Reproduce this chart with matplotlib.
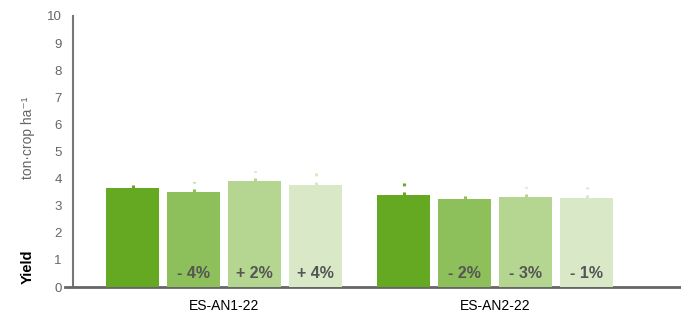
import numpy as np
import matplotlib
matplotlib.use("Agg")
import matplotlib.pyplot as plt

plt.rcParams['font.family'] = ['Liberation Sans', 'DejaVu Sans']

# Data
sites = ['ES-AN1-22', 'ES-AN2-22']
yields = [
    [3.65, 3.39],   # treatment 1
    [3.50, 3.25],   # treatment 2
    [3.91, 3.32],   # treatment 3
    [3.76, 3.28],   # treatment 4
]
upper_err = [
    [0.26, 0.45],
    [0.37, 0.33],
    [0.37, 0.37],
    [0.48, 0.41],
]
change_labels = [
    ['', ''],
    ['- 4%', '- 2%'],
    ['+ 2%', '- 3%'],
    ['+ 4%', '- 1%'],
]
colours = ['#65a922', '#8dc05a', '#b4d691', '#d9e9c8']

fig = plt.figure(figsize=(6.81, 3.2), dpi=100)
ax = fig.add_axes([65 / 681, 33 / 320, 616 / 681, 271 / 320])

x = np.arange(len(sites))
step = 0.225
width = 0.196
for i, (vals, errs, labels, col) in enumerate(zip(yields, upper_err, change_labels, colours)):
    pos = x + (i - 1.5) * step
    ax.bar(pos, vals, width=width, color=col, zorder=3)
    eb = ax.errorbar(pos, vals, yerr=[np.zeros(len(errs)), errs], fmt='none',
                     ecolor=col, elinewidth=2.2, capsize=0, zorder=4)
    for line in eb[2]:
        line.set_linestyle((0, (1, 2)))
    for p, lab in zip(pos, labels):
        if lab:
            ax.text(p, 0.48, lab, ha='center', va='center', fontsize=11.5,
                    fontweight='bold', color='#555555', zorder=4)

ax.set_xlim(-0.587, 1.686)
ax.set_ylim(0, 10)
ax.set_yticks(range(0, 11))
ax.set_xticks(x)
ax.set_xticklabels(sites, fontsize=10, color='black')

for side in ['top', 'right']:
    ax.spines[side].set_visible(False)
ax.spines['left'].set_position(('axes', 8 / 616))
ax.spines['left'].set_color('#777777')
ax.spines['left'].set_linewidth(1.5)
ax.spines['bottom'].set_color('#666666')
ax.spines['bottom'].set_linewidth(2)
ax.tick_params(axis='y', length=0, pad=8, labelsize=9.5, labelcolor='#666666')
ax.tick_params(axis='x', length=0, pad=9)

fig.text(28 / 681, 1 - 138 / 320, 'ton·crop ha⁻¹', rotation=90, ha='center',
         va='center', fontsize=10, color='#666666')
fig.text(28 / 681, 1 - 267 / 320, 'Yield', rotation=90, ha='center', va='center',
         fontsize=10.5, fontweight='bold', color='black')

fig.savefig('out.png', dpi=100)
